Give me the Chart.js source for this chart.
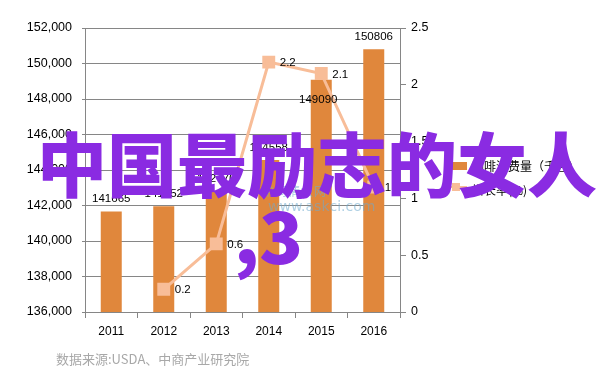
<!DOCTYPE html>
<html><head><meta charset="utf-8">
<script src="https://cdn.jsdelivr.net/npm/chart.js@4.4.1/dist/chart.umd.min.js"></script>
<style>
html,body{margin:0;padding:0;background:#fff;}
#wrap{position:relative;width:602px;height:384px;overflow:hidden;font-family:"Liberation Sans","Noto Sans CJK SC",sans-serif;}
canvas{position:absolute;left:0;top:0;}
.lg{position:absolute;font-size:12px;color:#000;font-family:"Noto Sans CJK SC",sans-serif;white-space:nowrap;}
.sw{position:absolute;}
#src{position:absolute;left:56px;top:349px;font-size:13px;color:#a8a8a8;font-family:"Noto Sans CJK SC",serif;white-space:nowrap;}
#wm{position:absolute;left:268px;top:198px;font-size:14px;color:rgba(110,170,205,0.55);font-family:"DejaVu Sans",sans-serif;}
#wm2{position:absolute;left:262px;top:182px;font-size:12px;color:rgba(110,170,205,0.6);font-family:"Noto Sans CJK SC",sans-serif;letter-spacing:1px;}
#ov1{position:absolute;left:37px;top:117px;font-size:70px;line-height:90px;font-weight:900;color:#8a2be2;font-family:"Noto Sans CJK SC",sans-serif;white-space:nowrap;}
#ov2{position:absolute;left:234px;top:188px;font-size:72px;line-height:90px;font-weight:900;color:#8a2be2;font-family:"Noto Sans CJK SC",sans-serif;white-space:nowrap;}
</style></head>
<body>
<div id="wrap">
<canvas id="c" width="602" height="384"></canvas>
<div id="wm2">中商情报网</div>
<div id="wm">www.askci.com</div>
<div class="sw" style="left:445px;top:162px;width:22px;height:8px;background:#e0873c;"></div>
<div class="lg" style="left:472px;top:157px;">咖啡消费量（千包）</div>
<div class="sw" style="left:445px;top:186px;width:22px;height:2px;background:#f8bd98;"></div>
<div class="sw" style="left:452px;top:183px;width:8px;height:8px;background:#f8bd98;"></div>
<div class="lg" style="left:472px;top:181px;">增长率(%)</div>
<div id="ov1">中国最励志的女人</div>
<div id="ov2">,3</div>
<div id="src">数据来源:USDA、中商产业研究院</div>
</div>
<script>
const categories = ["2011","2012","2013","2014","2015","2016"];
const consumption = [141665, 141952, 142776, 144558, 149090, 150806];
const growth = [null, 0.2, 0.6, 2.2, 2.1, 1.1];
const growthLabels = [null, "0.2", "0.6", "2.2", "2.1", "1.1"];
const consumptionLabels = ["141665", "141952", "142776", "144558", "149090", "150806"];

const labelPlugin = {
  id: 'vals',
  afterDatasetsDraw(chart) {
    const ctx = chart.ctx;
    ctx.save();
    ctx.font = '11.5px "Liberation Sans", sans-serif';
    ctx.fillStyle = '#000';
    const m0 = chart.getDatasetMeta(1);
    ctx.textAlign = 'center'; ctx.textBaseline = 'bottom';
    m0.data.forEach((el, i) => {
      // the 2015 label sits below its bar top in the original
      const dy = (i === 4) ? 26 : -7;
      const dx = (i === 4) ? -3 : 0;
      ctx.fillText(consumptionLabels[i], el.x + dx, el.y + dy);
    });
    const m1 = chart.getDatasetMeta(0);
    ctx.textAlign = 'left'; ctx.textBaseline = 'middle';
    m1.data.forEach((el, i) => { if (growth[i] != null) ctx.fillText(growthLabels[i], el.x + 11, el.y + 1); });
    ctx.restore();
  }
};

new Chart(document.getElementById('c'), {
  data: {
    labels: categories,
    datasets: [
      { type: 'line', data: growth, yAxisID: 'y1', borderColor: '#f8bd98', backgroundColor: '#f8bd98',
        borderWidth: 3, pointStyle: 'rect', pointRadius: 7, pointHoverRadius: 7, spanGaps: false, order: 0 },
      { type: 'bar', data: consumption, yAxisID: 'y', backgroundColor: '#e0873c',
        barPercentage: 0.4, categoryPercentage: 1.0, order: 1 }
    ]
  },
  options: {
    responsive: false, animation: false,
    plugins: { legend: { display: false }, tooltip: { enabled: false } },
    layout: { padding: { left: 0, right: 162, top: 28, bottom: 0 } },
    scales: {
      x: {
        afterFit: s => { s.height = 72; },
        grid: { offset: true, drawOnChartArea: false, tickLength: 6, color: '#868686' },
        border: { color: '#868686' },
        ticks: { color: '#000', font: { size: 12, family: '"Liberation Sans", sans-serif' }, padding: 6 }
      },
      y: {
        position: 'left', min: 136000, max: 152000,
        afterFit: s => { s.width = 85; },
        ticks: { stepSize: 2000, color: '#000', font: { size: 12.5, family: '"Liberation Sans", sans-serif' }, padding: 10 },
        grid: { color: '#868686', tickLength: 3 },
        border: { color: '#868686' }
      },
      y1: {
        position: 'right', min: 0, max: 2.5,
        afterFit: s => { s.width = 40; },
        ticks: { stepSize: 0.5, color: '#000', font: { size: 12.5, family: '"Liberation Sans", sans-serif' }, padding: 5,
          callback: v => String(v) },
        grid: { drawOnChartArea: false, tickLength: 6, color: '#868686' },
        border: { color: '#868686' }
      }
    }
  },
  plugins: [labelPlugin]
});
</script>
</body></html>
